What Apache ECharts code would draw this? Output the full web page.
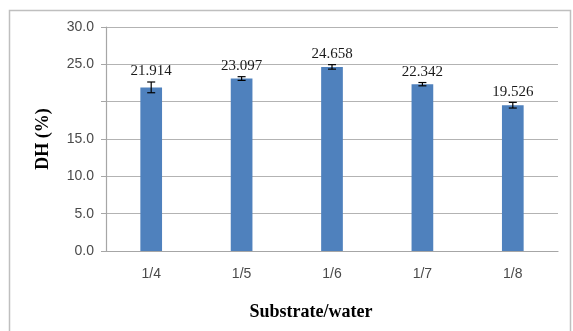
<!DOCTYPE html>
<html>
<head>
<meta charset="utf-8">
<script src="https://cdn.jsdelivr.net/npm/echarts@6/dist/echarts.min.js"></script>
<style>html,body{margin:0;padding:0;background:#fff}#c{width:573px;height:331px}</style>
</head>
<body>
<div id="c"></div>
<script>
var categories = ['1/4', '1/5', '1/6', '1/7', '1/8'];
var dhValues = [21.914, 23.097, 24.658, 22.342, 19.526];
var dhErrors = [0.72, 0.25, 0.3, 0.22, 0.38];
var yTicks = [0, 5, 10, 15, 20, 25, 30];
var hiddenTickLabels = [20];

var chart = echarts.init(document.getElementById('c'));
var errData = categories.map(function (c, i) { return [i, dhValues[i] - dhErrors[i], dhValues[i] + dhErrors[i], dhValues[i]]; });

chart.setOption({
  animation: false,
  grid: { left: 106, right: 15, top: 27, bottom: 80 },
  graphic: [{
    type: 'rect', shape: { x: 9.5, y: 10.5, width: 561, height: 340 },
    style: { fill: 'none', stroke: '#bfbfbf', lineWidth: 1.5 }, silent: true, z: -10
  }],
  xAxis: {
    type: 'category', data: categories,
    axisLine: { lineStyle: { color: '#a6a6a6', width: 1.2 } },
    axisTick: { show: false },
    axisLabel: { color: '#4a4a4a', fontFamily: 'Liberation Sans', fontSize: 14, margin: 16 },
    name: 'Substrate/water', nameLocation: 'middle', nameGap: 52,
    nameTextStyle: { fontFamily: 'Liberation Serif', fontWeight: 'bold', fontSize: 18, color: '#000', padding: [0, 42, 0, 0] }
  },
  yAxis: {
    type: 'value', min: yTicks[0], max: yTicks[yTicks.length - 1], interval: 5,
    axisLine: { show: true, lineStyle: { color: '#a6a6a6', width: 1.2 } },
    axisTick: { show: true, length: 5, lineStyle: { color: '#a6a6a6' } },
    splitLine: { lineStyle: { color: '#b3b3b3', width: 1.2 } },
    axisLabel: {
      color: '#4a4a4a', fontFamily: 'Liberation Sans', fontSize: 14, margin: 12,
      formatter: function (v) { return hiddenTickLabels.indexOf(v) >= 0 ? '' : v.toFixed(1); }
    },
    name: 'DH (%)', nameLocation: 'middle', nameGap: 54,
    nameTextStyle: { fontFamily: 'Liberation Serif', fontWeight: 'bold', fontSize: 18, color: '#000' }
  },
  series: [{
    type: 'bar', data: dhValues, barWidth: '24%',
    itemStyle: { color: '#4f81bd' }
  }, {
    type: 'custom', data: errData, z: 10,
    renderItem: function (params, api) {
      var x = api.value(0);
      var lo = api.coord([x, api.value(1)]);
      var hi = api.coord([x, api.value(2)]);
      var hw = 4;
      var st = { stroke: '#000', lineWidth: 1.2 };
      return {
        type: 'group', children: [
          { type: 'line', shape: { x1: lo[0], y1: lo[1], x2: hi[0], y2: hi[1] }, style: st },
          { type: 'line', shape: { x1: lo[0] - hw, y1: lo[1], x2: lo[0] + hw, y2: lo[1] }, style: st },
          { type: 'line', shape: { x1: hi[0] - hw, y1: hi[1], x2: hi[0] + hw, y2: hi[1] }, style: st },
          { type: 'text', x: hi[0], y: hi[1] - 3, style: {
              text: api.value(3).toFixed(3), align: 'center', verticalAlign: 'bottom',
              fontFamily: 'Liberation Serif', fontSize: 15, fill: '#1a1a1a' } }
        ]
      };
    }
  }]
});
</script>
</body>
</html>
